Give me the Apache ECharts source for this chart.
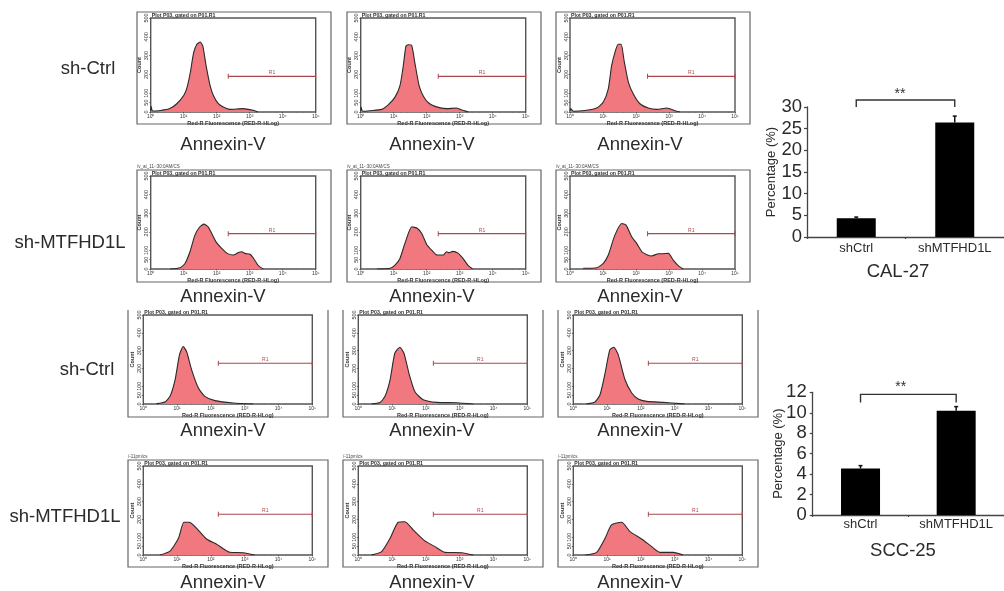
<!DOCTYPE html>
<html><head><meta charset="utf-8">
<style>html,body{margin:0;padding:0;background:#fff}#c{width:1004px;height:591px}</style>
<script src="https://cdn.jsdelivr.net/npm/echarts@6/dist/echarts.min.js"></script>
</head><body><div id="c"></div>
<script>
// Histogram data: [log10 fluorescence, count]
const calCtrl1=[[0,4],[0.01,30],[0.06,5],[0.3,8],[0.58,18],[0.79,44],[1.0,88],[1.1,130],[1.2,210],[1.3,315],[1.4,360],[1.5,372],[1.58,350],[1.68,245],[1.8,140],[1.9,88],[2.05,44],[2.2,26],[2.4,14],[2.8,18],[3.1,9],[3.25,0]];
const calCtrl2=[[0,4],[0.01,26],[0.06,4],[0.28,7],[0.64,14],[0.84,39],[1.04,79],[1.19,140],[1.29,245],[1.37,350],[1.44,358],[1.54,356],[1.64,263],[1.77,140],[1.9,84],[2.05,49],[2.25,30],[2.6,18],[2.9,21],[3.1,9],[3.26,0]];
const calCtrl3=[[0,4],[0.02,18],[0.1,4],[0.5,9],[0.81,21],[1.01,53],[1.16,123],[1.26,245],[1.36,316],[1.46,360],[1.55,360],[1.64,272],[1.77,158],[1.92,96],[2.12,44],[2.37,21],[2.63,14],[2.93,21],[3.23,4],[3.33,0]];
const calKd1=[[0.59,0],[0.89,7],[1.04,30],[1.19,93],[1.34,182],[1.49,227],[1.61,241],[1.74,227],[1.85,191],[1.98,146],[2.15,111],[2.32,84],[2.5,75],[2.66,89],[2.76,93],[2.86,84],[3.01,79],[3.13,54],[3.26,18],[3.41,0]];
const calKd2=[[0.49,0],[0.89,4],[1.04,21],[1.19,57],[1.34,138],[1.55,227],[1.72,218],[1.85,191],[2,132],[2.15,102],[2.32,75],[2.5,75],[2.6,93],[2.68,88],[2.79,95],[2.96,84],[3.11,54],[3.26,18],[3.39,0]];
const calKd3=[[0.4,4],[0.81,7],[1.01,30],[1.16,75],[1.36,182],[1.57,245],[1.7,236],[1.87,173],[2.02,138],[2.2,89],[2.47,70],[2.68,82],[2.78,82],[2.98,84],[3.13,48],[3.28,18],[3.43,0]];
const sccCtrl1=[[0.39,2],[0.64,11],[0.79,43],[0.94,136],[1.07,276],[1.18,323],[1.28,295],[1.43,192],[1.63,90],[1.82,43],[2.12,19],[2.66,6],[3.25,0]];
const sccCtrl2=[[0.39,0],[0.64,8],[0.79,43],[0.94,136],[1.08,285],[1.23,319],[1.35,285],[1.51,164],[1.68,67],[1.92,24],[2.32,9],[2.91,7],[3.4,0]];
const sccCtrl3=[[0.39,0],[0.64,11],[0.79,52],[0.94,173],[1.08,304],[1.2,319],[1.33,276],[1.53,136],[1.73,62],[1.92,28],[2.17,15],[2.66,9],[3.16,2],[3.3,0]];
const sccKd1=[[0.49,0],[0.79,22],[1.04,94],[1.2,184],[1.36,184],[1.58,150],[1.87,90],[2.17,60],[2.56,15],[2.96,13],[3.3,0]];
const sccKd2=[[0.39,0],[0.69,19],[0.94,94],[1.18,184],[1.38,187],[1.63,140],[1.97,79],[2.27,47],[2.56,15],[3.06,13],[3.4,0]];
const sccKd3=[[0.35,0],[0.69,15],[0.94,94],[1.13,169],[1.43,184],[1.68,131],[2.02,90],[2.32,47],[2.56,15],[2.96,15],[3.25,0]];
const histRows=[[calCtrl1,calCtrl2,calCtrl3],[calKd1,calKd2,calKd3],[sccCtrl1,sccCtrl2,sccCtrl3],[sccKd1,sccKd2,sccKd3]];
// R1 gate per row: [start decade, end decade, count]
const gateCal=[2.35,5,190];
const gateScc=[2.22,5,229];
const gates=[gateCal,gateCal,gateScc,gateScc];
const countTicks=[0,50,100,200,300,400,500];
const decadeLabels=['10⁰','10¹','10²','10³','10⁴','10⁵'];
const stamps=['','/v_at_11-:30:0AM/CS','','/-11pm/cs'];
const rowLabels=['sh-Ctrl','sh-MTFHD1L','sh-Ctrl','sh-MTFHD1L'];
// Bar charts
const barCats=['shCtrl','shMTFHD1L'];
const calValues=[4.3,26.4];
const calErrTop=[4.6,27.9];
const sccValues=[4.55,10.2];
const sccErrTop=[4.83,10.6];
const calTicks=[0,30,5];
const sccTicks=[0,12,2];

// Layout
const rowBoxes=[
 {top:18,bottom:112,oTop:12,oBottom:124,cap:144.5},
 {top:176,bottom:269,oTop:170,oBottom:282,cap:297},
 {top:315,bottom:404,oTop:310,oBottom:417,cap:431},
 {top:466,bottom:555,oTop:460,oBottom:567,cap:583}];
rowBoxes[2].open=true;
const colsA=[{l:150.7,r:315.7,ol:137,or:331,c:223},{l:360.7,r:525.7,ol:347,or:541,c:432},{l:570,r:735,ol:556,or:750,c:640}];
const colsB=[{l:143.3,r:312.3,ol:128,or:328,c:223},{l:358.3,r:527.3,ol:343,or:543,c:432},{l:573.3,r:742.3,ol:558,or:758,c:640}];
const rowLabelPos=[[88,69],[70,243],[87,370],[65,517]];
const FF='"Liberation Sans",Arial,sans-serif';
const grid=[],xAxis=[],yAxis=[],series=[],graphic=[];
const txt=(x,y,text,size,color,extra)=>graphic.push({type:'text',silent:true,style:Object.assign({x,y,text,font:size+'px '+FF,fill:color,textAlign:'center',textVerticalAlign:'middle'},extra||{})});

histRows.forEach((row,ri)=>{
 const R=rowBoxes[ri], cols=ri<2?colsA:colsB, gate=gates[ri];
 row.forEach((data,ci)=>{
  const C=cols[ci], idx=grid.length;
  grid.push({left:C.l,top:R.top,width:C.r-C.l,height:R.bottom-R.top,show:true,borderColor:'#555',borderWidth:1.4,backgroundColor:'#fff'});
  xAxis.push({type:'value',gridIndex:idx,min:0,max:5,interval:1,
   name:'Red-R Fluorescence (RED-R-HLog)',nameLocation:'middle',nameGap:7,nameTextStyle:{fontSize:5.5,fontWeight:'bold',color:'#333',fontFamily:FF},
   axisLine:{show:false},splitLine:{show:false},
   axisTick:{show:true,length:1.5,lineStyle:{color:'#444',width:.7}},
   minorTick:{show:true,splitNumber:5,length:1,lineStyle:{color:'#666',width:.5}},
   axisLabel:{fontSize:5,color:'#333',margin:2.5,fontFamily:FF,formatter:v=>decadeLabels[v]}});
  yAxis.push({type:'value',gridIndex:idx,min:0,max:500,
   name:'Count',nameLocation:'middle',nameGap:7,nameTextStyle:{fontSize:5.5,fontWeight:'bold',color:'#333',fontFamily:FF},
   axisLine:{show:false},splitLine:{show:false},
   axisTick:{show:true,length:1.5,customValues:countTicks,lineStyle:{color:'#444',width:.7}},
   axisLabel:{fontSize:5.5,color:'#333',margin:1,rotate:90,fontFamily:FF,customValues:countTicks}});
  series.push({type:'line',xAxisIndex:idx,yAxisIndex:idx,data,smooth:0.2,showSymbol:false,silent:true,
   lineStyle:{color:'#2a2a2a',width:1.1},areaStyle:{color:'#f0787e',opacity:1},itemStyle:{color:'#2a2a2a'}});
  series.push({type:'line',xAxisIndex:idx,yAxisIndex:idx,silent:true,symbol:'rect',symbolSize:[1,5],showAllSymbol:true,
   lineStyle:{color:'#a8484e',width:1.2},itemStyle:{color:'#a8484e'},
   data:[[gate[0],gate[2]],
    {value:[(gate[0]+gate[1])/2,gate[2]],symbol:'circle',symbolSize:.5,label:{show:true,formatter:'R1',position:'top',distance:.5,fontSize:5,color:'#a8484e',fontFamily:FF}},
    [gate[1],gate[2]]]});
  // frame, header, caption
  if(R.open){
   graphic.push({type:'polyline',silent:true,z:-1,shape:{points:[[C.ol,R.oTop],[C.ol,R.oBottom],[C.or,R.oBottom],[C.or,R.oTop]]},style:{stroke:'#666',lineWidth:1.2,fill:null}});
  }else{
   graphic.push({type:'rect',silent:true,z:-1,shape:{x:C.ol,y:R.oTop,width:C.or-C.ol,height:R.oBottom-R.oTop},style:{stroke:'#666',lineWidth:1.2,fill:null}});
  }
  txt(C.l+1,R.top-2.5,'Plot P03, gated on P01.R1',5.2,'#333',{textAlign:'left',font:'bold 5.2px '+FF});
  if(stamps[ri]) txt(C.ol,R.oTop-3.5,stamps[ri],4.5,'#444',{textAlign:'left'});
  txt(C.c,R.cap,'Annexin-V',18.5,'#2b2b2b');
 });
 txt(rowLabelPos[ri][0],rowLabelPos[ri][1],rowLabels[ri],18.5,'#2b2b2b');
});

function addBars(left,top,height,ticks,values,errTop,bracket,caption,starsPos,captionPos,nameGap,catMargin,valMargin){
 const idx=grid.length;
 grid.push({left,top,width:197,height});
 xAxis.push({type:'category',gridIndex:idx,data:barCats,boundaryGap:true,
  axisLine:{lineStyle:{color:'#444',width:1.3}},axisTick:{show:true,length:2,lineStyle:{color:'#444',width:1.2}},
  axisLabel:{fontSize:13,color:'#2b2b2b',margin:catMargin,fontFamily:FF,interval:0}});
 yAxis.push({type:'value',gridIndex:idx,min:ticks[0],max:ticks[1],interval:ticks[2],
  name:'Percentage (%)',nameLocation:'middle',nameGap,nameMoveOverlap:false,nameTextStyle:{fontSize:13,color:'#2b2b2b',fontFamily:FF},
  axisLine:{show:true,lineStyle:{color:'#444',width:1.3}},axisTick:{show:true,length:3,lineStyle:{color:'#444',width:1.2}},splitLine:{show:false},
  axisLabel:{fontSize:18.5,color:'#2b2b2b',margin:valMargin,fontFamily:FF}});
 series.push({type:'bar',xAxisIndex:idx,yAxisIndex:idx,data:values,barWidth:39,itemStyle:{color:'#000'},silent:true,z:2});
 series.push({type:'custom',xAxisIndex:idx,yAxisIndex:idx,silent:true,z:3,clip:false,
  data:values.map((v,i)=>[i,v,errTop[i]]),encode:{x:0,y:[1,2]},
  renderItem:(p,api)=>{
   const a=api.coord([api.value(0),api.value(1)]),b=api.coord([api.value(0),api.value(2)]);
   const st={stroke:'#111',lineWidth:1.5,fill:null};
   return {type:'group',children:[
    {type:'line',shape:{x1:a[0],y1:a[1],x2:b[0],y2:b[1]},style:st},
    {type:'line',shape:{x1:b[0]-2,y1:b[1],x2:b[0]+2,y2:b[1]},style:st}]};
  }});
 series.push({type:'custom',xAxisIndex:idx,yAxisIndex:idx,silent:true,z:3,clip:false,
  data:[[0,1,bracket[0],bracket[1]]],encode:{x:[0,1],y:[2,3]},
  renderItem:(p,api)=>{
   const a=api.coord([api.value(0),api.value(2)]),b=api.coord([api.value(0),api.value(3)]),
         c=api.coord([api.value(1),api.value(3)]),d=api.coord([api.value(1),api.value(2)]);
   return {type:'polyline',shape:{points:[a,b,c,d]},style:{stroke:'#333',lineWidth:1.4,fill:null}};
  }});
 txt(starsPos[0],starsPos[1],'**',14,'#333');
 txt(captionPos[0],captionPos[1],caption,18.5,'#2b2b2b');
}
const calBracket=[30,31.6], sccBracket=[11,11.8];
addBars(807,107,130,calTicks,calValues,calErrTop,calBracket,'CAL-27',[900,94],[898,272],29,5,5);
addBars(812.7,392.3,122.7,sccTicks,sccValues,sccErrTop,sccBracket,'SCC-25',[900.7,387],[903,551],28,3,6);

const chart=echarts.init(document.getElementById('c'),null,{renderer:'canvas'});
chart.setOption({animation:false,backgroundColor:'#fff',tooltip:{show:false},grid,xAxis,yAxis,series,graphic:{elements:graphic}});
</script></body></html>
